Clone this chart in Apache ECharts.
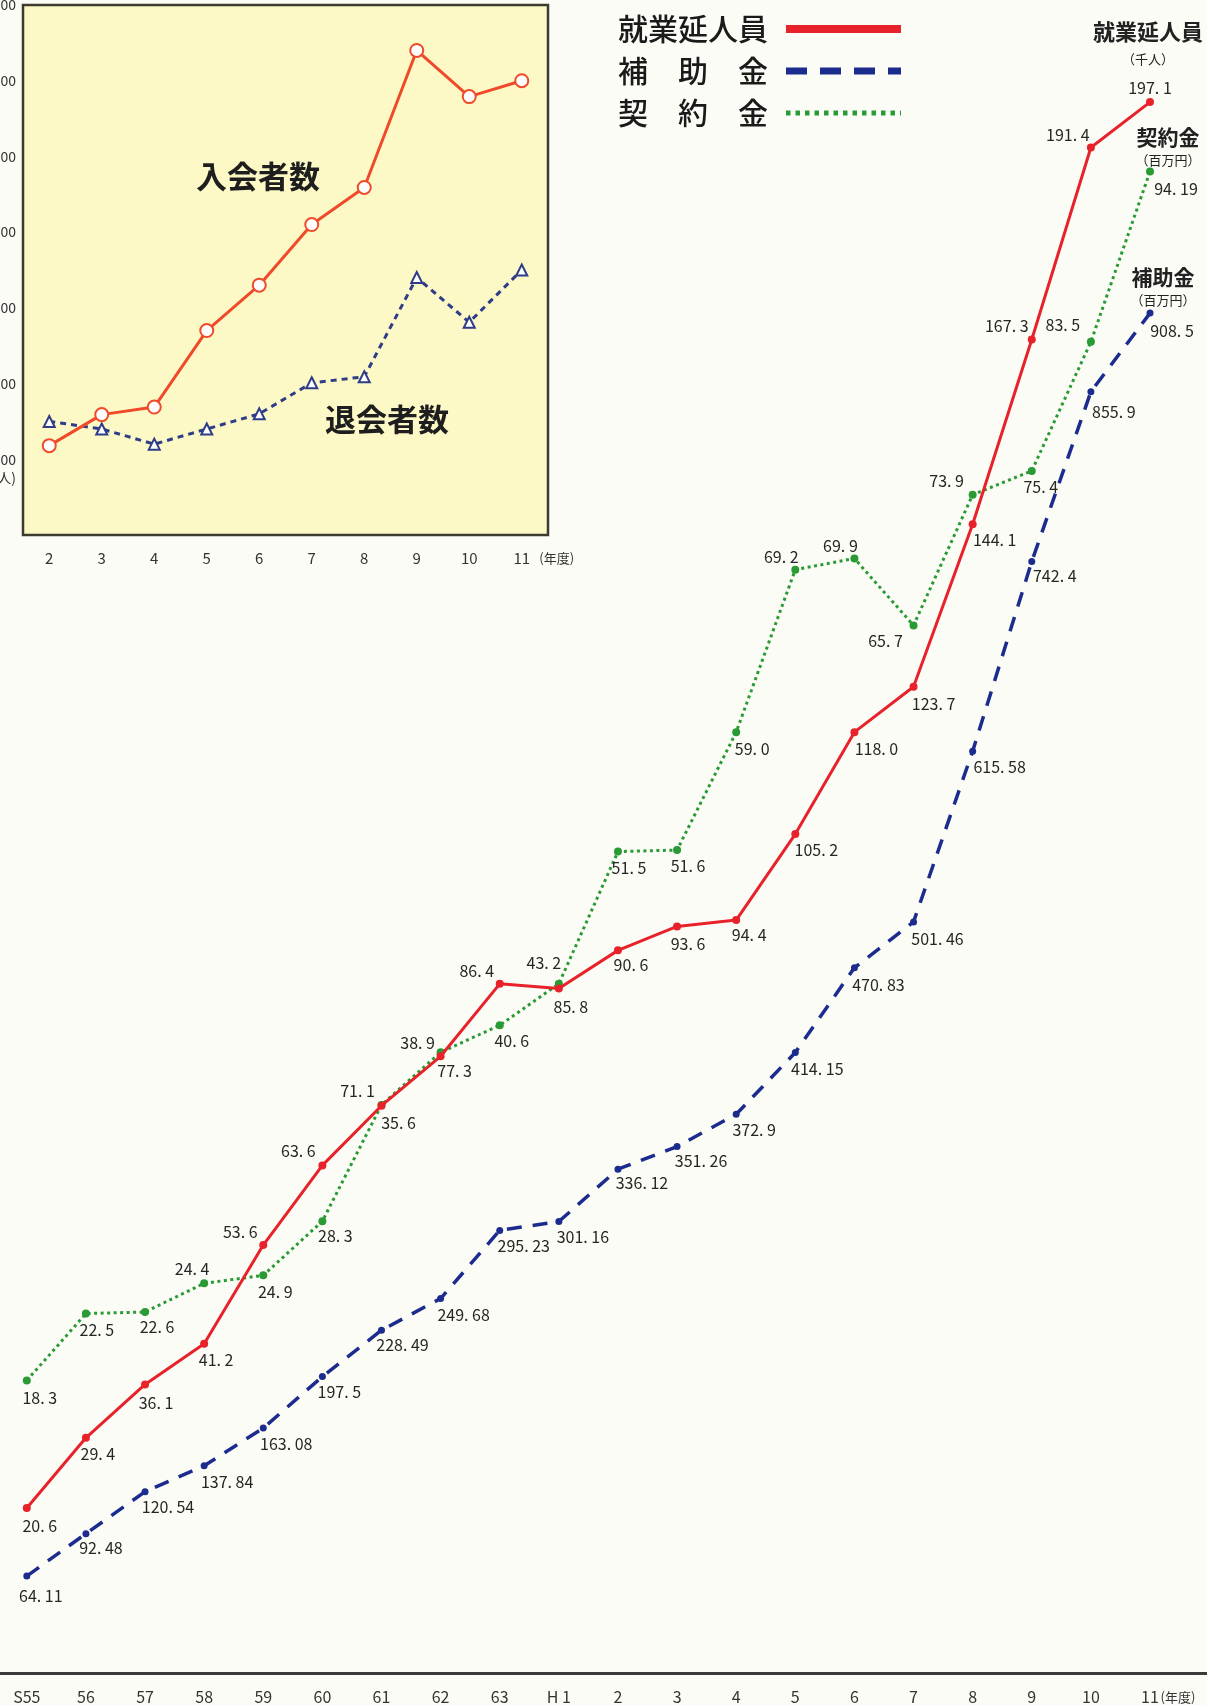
<!DOCTYPE html>
<html>
<head>
<meta charset="utf-8">
<script src="https://cdn.jsdelivr.net/npm/echarts@6/dist/echarts.min.js"></script>
<style>
  html, body { margin: 0; padding: 0; background: #fcfcf6; }
  #chart { width: 1207px; height: 1705px; }
</style>
</head>
<body>
<div id="chart"></div>
<script>
// Fiscal years (Showa 55 .. Heisei 11)
const years = ['S55', '56', '57', '58', '59', '60', '61', '62', '63', 'H 1', '2', '3', '4', '5', '6', '7', '8', '9', '10', '11'];
// 就業延人員 (千人)
const workers = [20.6, 29.4, 36.1, 41.2, 53.6, 63.6, 71.1, 77.3, 86.4, 85.8, 90.6, 93.6, 94.4, 105.2, 118.0, 123.7, 144.1, 167.3, 191.4, 197.1];
// 補助金 (百万円)
const subsidy = [64.11, 92.48, 120.54, 137.84, 163.08, 197.5, 228.49, 249.68, 295.23, 301.16, 336.12, 351.26, 372.9, 414.15, 470.83, 501.46, 615.58, 742.4, 855.9, 908.5];
// 契約金 (百万円)
const contract = [18.3, 22.5, 22.6, 24.4, 24.9, 28.3, 35.6, 38.9, 40.6, 43.2, 51.5, 51.6, 59.0, 69.2, 69.9, 65.7, 73.9, 75.4, 83.5, 94.19];

// Inset: members joining / leaving (Heisei 2 .. 11)
const insetYears = ['2', '3', '4', '5', '6', '7', '8', '9', '10', '11'];
const joined = [118, 159, 169, 270, 330, 410, 459, 640, 579, 600];
const withdrawn = [150, 140, 120, 140, 160, 201, 209, 340, 281, 350];

// Label placement (pixel offset of each value label from its point)
const workersLabelAt = [[13,18],[12,16],[11,18],[12,16],[-23,-13],[-24,-15],[-24,-15],[14,15],[-23,-13],[12,18],[13,15],[11,17],[13,15],[21,16],[22,17],[20,17],[22,16],[-25,-14],[-23,-13],[0,-14]];
const contractLabelAt = [[13,17],[11,16],[12,15],[-12,-14],[12,17],[13,15],[17,18],[-23,-9],[12,16],[-15,-21],[11,16],[11,16],[16,17],[-14,-13],[-14,-13],[-28,16],[-26,-14],[9,16],[-28,-17],[26,17]];
const subsidyLabelAt = [[14,20],[15,14],[23,15],[23,16],[23,16],[17,15],[21,15],[23,16],[24,16],[24,15],[24,14],[24,14],[18,16],[22,16],[24,17],[24,17],[27,16],[23,14],[23,20],[22,18]];

const FONT = '"Noto Sans CJK JP", "Noto Sans", sans-serif';
const RED = '#e8222b', BLUE = '#1c2b8e', GREEN = '#2a9a35';

const fmt = v => {
  let s = String(v);
  if (s.indexOf('.') < 0) s += '.0';
  return s.replace('.', '. ');
};
const withLabels = (vals, offs) => vals.map((v, i) => ({ value: v, label: { offset: offs[i] } }));

const valueLabel = {
  show: true, position: 'inside', fontSize: 16, color: '#262626', fontFamily: FONT,
  formatter: p => fmt(p.value)
};

// series title placed above the final point of each line
function header(vals, text, offset, rich) {
  const i = vals.length - 1;
  return {
    symbol: 'circle', symbolSize: 1, silent: true,
    itemStyle: { color: 'rgba(0,0,0,0)' },
    data: [{
      coord: [i, vals[i]],
      label: { show: true, position: 'inside', offset, formatter: text, rich, fontFamily: FONT, color: '#222' }
    }]
  };
}

const chart = echarts.init(document.getElementById('chart'), null, { renderer: 'canvas' });

chart.setOption({
  animation: false,
  backgroundColor: '#fcfcf6',
  textStyle: { fontFamily: FONT },
  legend: {
    data: [
      { name: '就業延人員', lineStyle: { width: 8 } },
      { name: '補助金', lineStyle: { width: 7, type: [21, 13] } },
      { name: '契約金', lineStyle: { width: 5, type: [4.5, 5] } }
    ],
    orient: 'vertical', left: 618, top: 14, padding: 0, align: 'right',
    itemWidth: 115, itemHeight: 30, itemGap: 12,
    itemStyle: { opacity: 0 },
    formatter: n => n.length === 3 ? n.split('').join('\u3000') : n,
    textStyle: { fontSize: 30, lineHeight: 30, color: '#1a1a1a', fontWeight: 500, fontFamily: FONT, padding: [0, 13, 0, 0] }
  },
  grid: [
    { left: 26.8, right: 57, top: 79, bottom: 33, outerBoundsMode: 'none', containLabel: false },
    { left: 23, right: 659, top: 5, bottom: 1170, show: true, backgroundColor: '#fdf9c6', borderColor: '#3b3b30', borderWidth: 2.5, z: 5, outerBoundsMode: 'none', containLabel: false },
    { left: 0, right: 0, top: 1671, height: 2, outerBoundsMode: 'none' }
  ],
  xAxis: [
    {
      type: 'category', data: years, gridIndex: 0, boundaryGap: false,
      axisLine: { show: false }, axisTick: { show: false },
      axisLabel: {
        interval: 0, hideOverlap: false,
        margin: 17, fontSize: 16, color: '#333', fontFamily: FONT,
        formatter: (v, i) => i === years.length - 1 ? '{p|}' + v + '{u|(年度)}' : v,
        rich: { p: { width: 38 }, u: { width: 38, fontSize: 13, align: 'left', color: '#333', fontFamily: FONT } }
      }
    },
    {
      type: 'category', data: insetYears, gridIndex: 1, boundaryGap: true,
      axisLine: { show: false }, axisTick: { show: false },
      axisLabel: {
        interval: 0, hideOverlap: false,
        margin: 16, fontSize: 15, color: '#333', fontFamily: FONT,
        formatter: (v, i) => i === insetYears.length - 1 ? '{p|}' + v + '{u|(年度)}' : v,
        rich: { p: { width: 44 }, u: { width: 44, fontSize: 13, align: 'right', color: '#333', fontFamily: FONT } }
      }
    },
    {
      type: 'value', gridIndex: 2, min: 0, max: 1, position: 'bottom',
      axisLine: { show: true, lineStyle: { color: '#3a3a3a', width: 3 } },
      axisTick: { show: false }, axisLabel: { show: false }, splitLine: { show: false }
    }
  ],
  yAxis: [
    { type: 'value', gridIndex: 0, min: 0, max: 200, show: false },
    { type: 'value', gridIndex: 0, min: 0, max: 1065, show: false },
    { type: 'value', gridIndex: 0, min: 0, max: 100, show: false },
    {
      type: 'value', gridIndex: 1, min: 0, max: 700, interval: 100,
      axisLine: { show: false },
      axisTick: { show: true, inside: true, length: 10, lineStyle: { color: '#333', width: 2 } },
      splitLine: { show: false },
      axisLabel: {
        margin: 7, fontSize: 14, lineHeight: 18, color: '#333', fontFamily: FONT,
        formatter: v => v === 0 ? '' : (v === 100 ? ' \n100\n(人)' : String(v))
      }
    },
    { type: 'value', gridIndex: 2, show: false }
  ],
  series: [
    {
      name: '補助金', type: 'line', xAxisIndex: 0, yAxisIndex: 1, z: 3,
      data: withLabels(subsidy, subsidyLabelAt),
      symbol: 'circle', symbolSize: 7,
      lineStyle: { color: BLUE, width: 3.5, type: [15, 11] },
      itemStyle: { color: BLUE },
      label: valueLabel,
      markPoint: header(subsidy, '{a|補助金}\n{b|（百万円）}', [13, -25], {
        a: { fontSize: 21, lineHeight: 23, fontWeight: 'bold', color: '#222', fontFamily: FONT },
        b: { fontSize: 13, lineHeight: 23, color: '#222', fontFamily: FONT }
      })
    },
    {
      name: '契約金', type: 'line', xAxisIndex: 0, yAxisIndex: 2, z: 4,
      data: withLabels(contract, contractLabelAt),
      symbol: 'circle', symbolSize: 8,
      lineStyle: { color: GREEN, width: 3, type: [3, 3.5] },
      itemStyle: { color: GREEN },
      label: valueLabel,
      markPoint: header(contract, '{a|契約金}\n{b|（百万円）}', [18, -23], {
        a: { fontSize: 21, lineHeight: 23, fontWeight: 'bold', color: '#222', fontFamily: FONT },
        b: { fontSize: 13, lineHeight: 23, color: '#222', fontFamily: FONT }
      })
    },
    {
      name: '就業延人員', type: 'line', xAxisIndex: 0, yAxisIndex: 0, z: 5,
      data: withLabels(workers, workersLabelAt),
      symbol: 'circle', symbolSize: 8,
      lineStyle: { color: RED, width: 3 },
      itemStyle: { color: RED },
      label: valueLabel,
      markPoint: header(workers, '{a|就業延人員}\n{b|（千人）}', [-2, -57], {
        a: { fontSize: 22, lineHeight: 27, fontWeight: 'bold', color: '#222', fontFamily: FONT },
        b: { fontSize: 13, lineHeight: 27, color: '#222', fontFamily: FONT }
      })
    },
    {
      name: '入会者数', type: 'line', xAxisIndex: 1, yAxisIndex: 3, z: 7,
      data: joined,
      symbol: 'emptyCircle', symbolSize: 13,
      lineStyle: { color: '#ef4b2a', width: 3 },
      itemStyle: { color: '#ef4b2a', borderWidth: 2.5 }
    },
    {
      name: '退会者数', type: 'line', xAxisIndex: 1, yAxisIndex: 3, z: 6,
      data: withdrawn,
      symbol: 'emptyTriangle', symbolSize: 11,
      lineStyle: { color: '#2f3d88', width: 3, type: [6, 5] },
      itemStyle: { color: '#2f3d88', borderWidth: 2 }
    }
  ],
  graphic: [
    {
      type: 'text', x: 258, y: 176, z: 20,
      style: { text: '入会者数', align: 'center', verticalAlign: 'middle', fill: '#1e1e1e', font: 'bold 31px ' + FONT }
    },
    {
      type: 'text', x: 387, y: 419, z: 20,
      style: { text: '退会者数', align: 'center', verticalAlign: 'middle', fill: '#1e1e1e', font: 'bold 31px ' + FONT }
    }
  ]
});
</script>
</body>
</html>
